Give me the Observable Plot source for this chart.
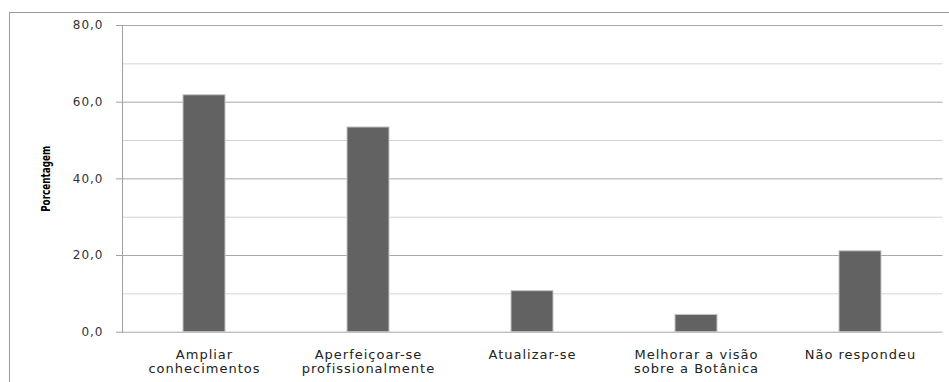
<!DOCTYPE html>
<html>
<head>
<meta charset="utf-8">
<script src="https://cdn.jsdelivr.net/npm/d3@7"></script>
<script src="https://cdn.jsdelivr.net/npm/@observablehq/plot@0.6"></script>
<style>
  html, body { margin: 0; padding: 0; background: #fff; }
  #wrap { position: relative; width: 949px; height: 382px; overflow: hidden; }
  #border { position: absolute; left: 9px; top: 12px; width: 960px; height: 400px;
            border-left: 1px solid #9a9a9a; border-top: 1px solid #9a9a9a; box-sizing: border-box; pointer-events: none; }
</style>
</head>
<body>
<div id="wrap"><div id="border"></div></div>
<script>
const categories = ["Ampliar conhecimentos", "Aperfeiçoar-se profissionalmente", "Atualizar-se", "Melhorar a visão sobre a Botânica", "Não respondeu"];
const tickLabels = ["Ampliar\nconhecimentos", "Aperfeiçoar-se\nprofissionalmente", "Atualizar-se", "Melhorar a visão\nsobre a Botânica", "Não respondeu"];
const values = [61.8, 53.4, 10.7, 4.5, 21.1];
const yTicks = [0, 20, 40, 60, 80];
const yMinor = [10, 30, 50, 70];
const yLabel = "Porcentagem";

const rows = categories.map((c, i) => ({category: c, value: values[i]}));

const chart = Plot.plot({
  width: 949,
  height: 382,
  marginLeft: 122,
  marginRight: 6.5,
  marginTop: 25,
  marginBottom: 50.3,
  style: {fontFamily: "DejaVu Sans, Verdana, sans-serif", background: "transparent"},
  x: {domain: categories, paddingInner: 0.744, paddingOuter: 0.372, label: null, axis: null},
  y: {domain: [0, 80], label: null, axis: null},
  marks: [
    Plot.ruleY(yMinor, {stroke: "#d4d4d4", strokeOpacity: 1}),
    Plot.ruleY(yTicks, {stroke: "#a8a8a8", strokeOpacity: 1}),
    Plot.frame({anchor: "left", stroke: "#a0a0a0"}),
    Plot.barY(rows, {x: "category", y: "value", fill: "#626262", stroke: "#c4c4c4", strokeWidth: 1}),
    Plot.axisY(yTicks, {tickSize: 6, tickPadding: 13, stroke: "#a0a0a0", fill: "#333",
      fontSize: 12, tickFormat: d => d.toFixed(1).replace(".", ","), label: null}),
    Plot.axisX({tickSize: 0, tickPadding: 17, fill: "#222", fontSize: 13, lineHeight: 1.08,
      tickFormat: d => tickLabels[categories.indexOf(d)], label: null}),
    Plot.text([yLabel], {text: d => d, frameAnchor: "left", textAnchor: "middle", rotate: -90, dx: -77,
      fontFamily: "Liberation Sans Narrow, DejaVu Sans Condensed, sans-serif", fontWeight: "bold", fontSize: 13, fill: "#000"})
  ]
});
d3.select(chart).selectAll("text").style("letter-spacing", "1px");
d3.select(chart).selectAll("text").filter(function() { return this.textContent === yLabel; })
  .style("letter-spacing", "0px")
  .attr("textLength", 66).attr("lengthAdjust", "spacingAndGlyphs");
document.getElementById("wrap").prepend(chart);
</script>
</body>
</html>
